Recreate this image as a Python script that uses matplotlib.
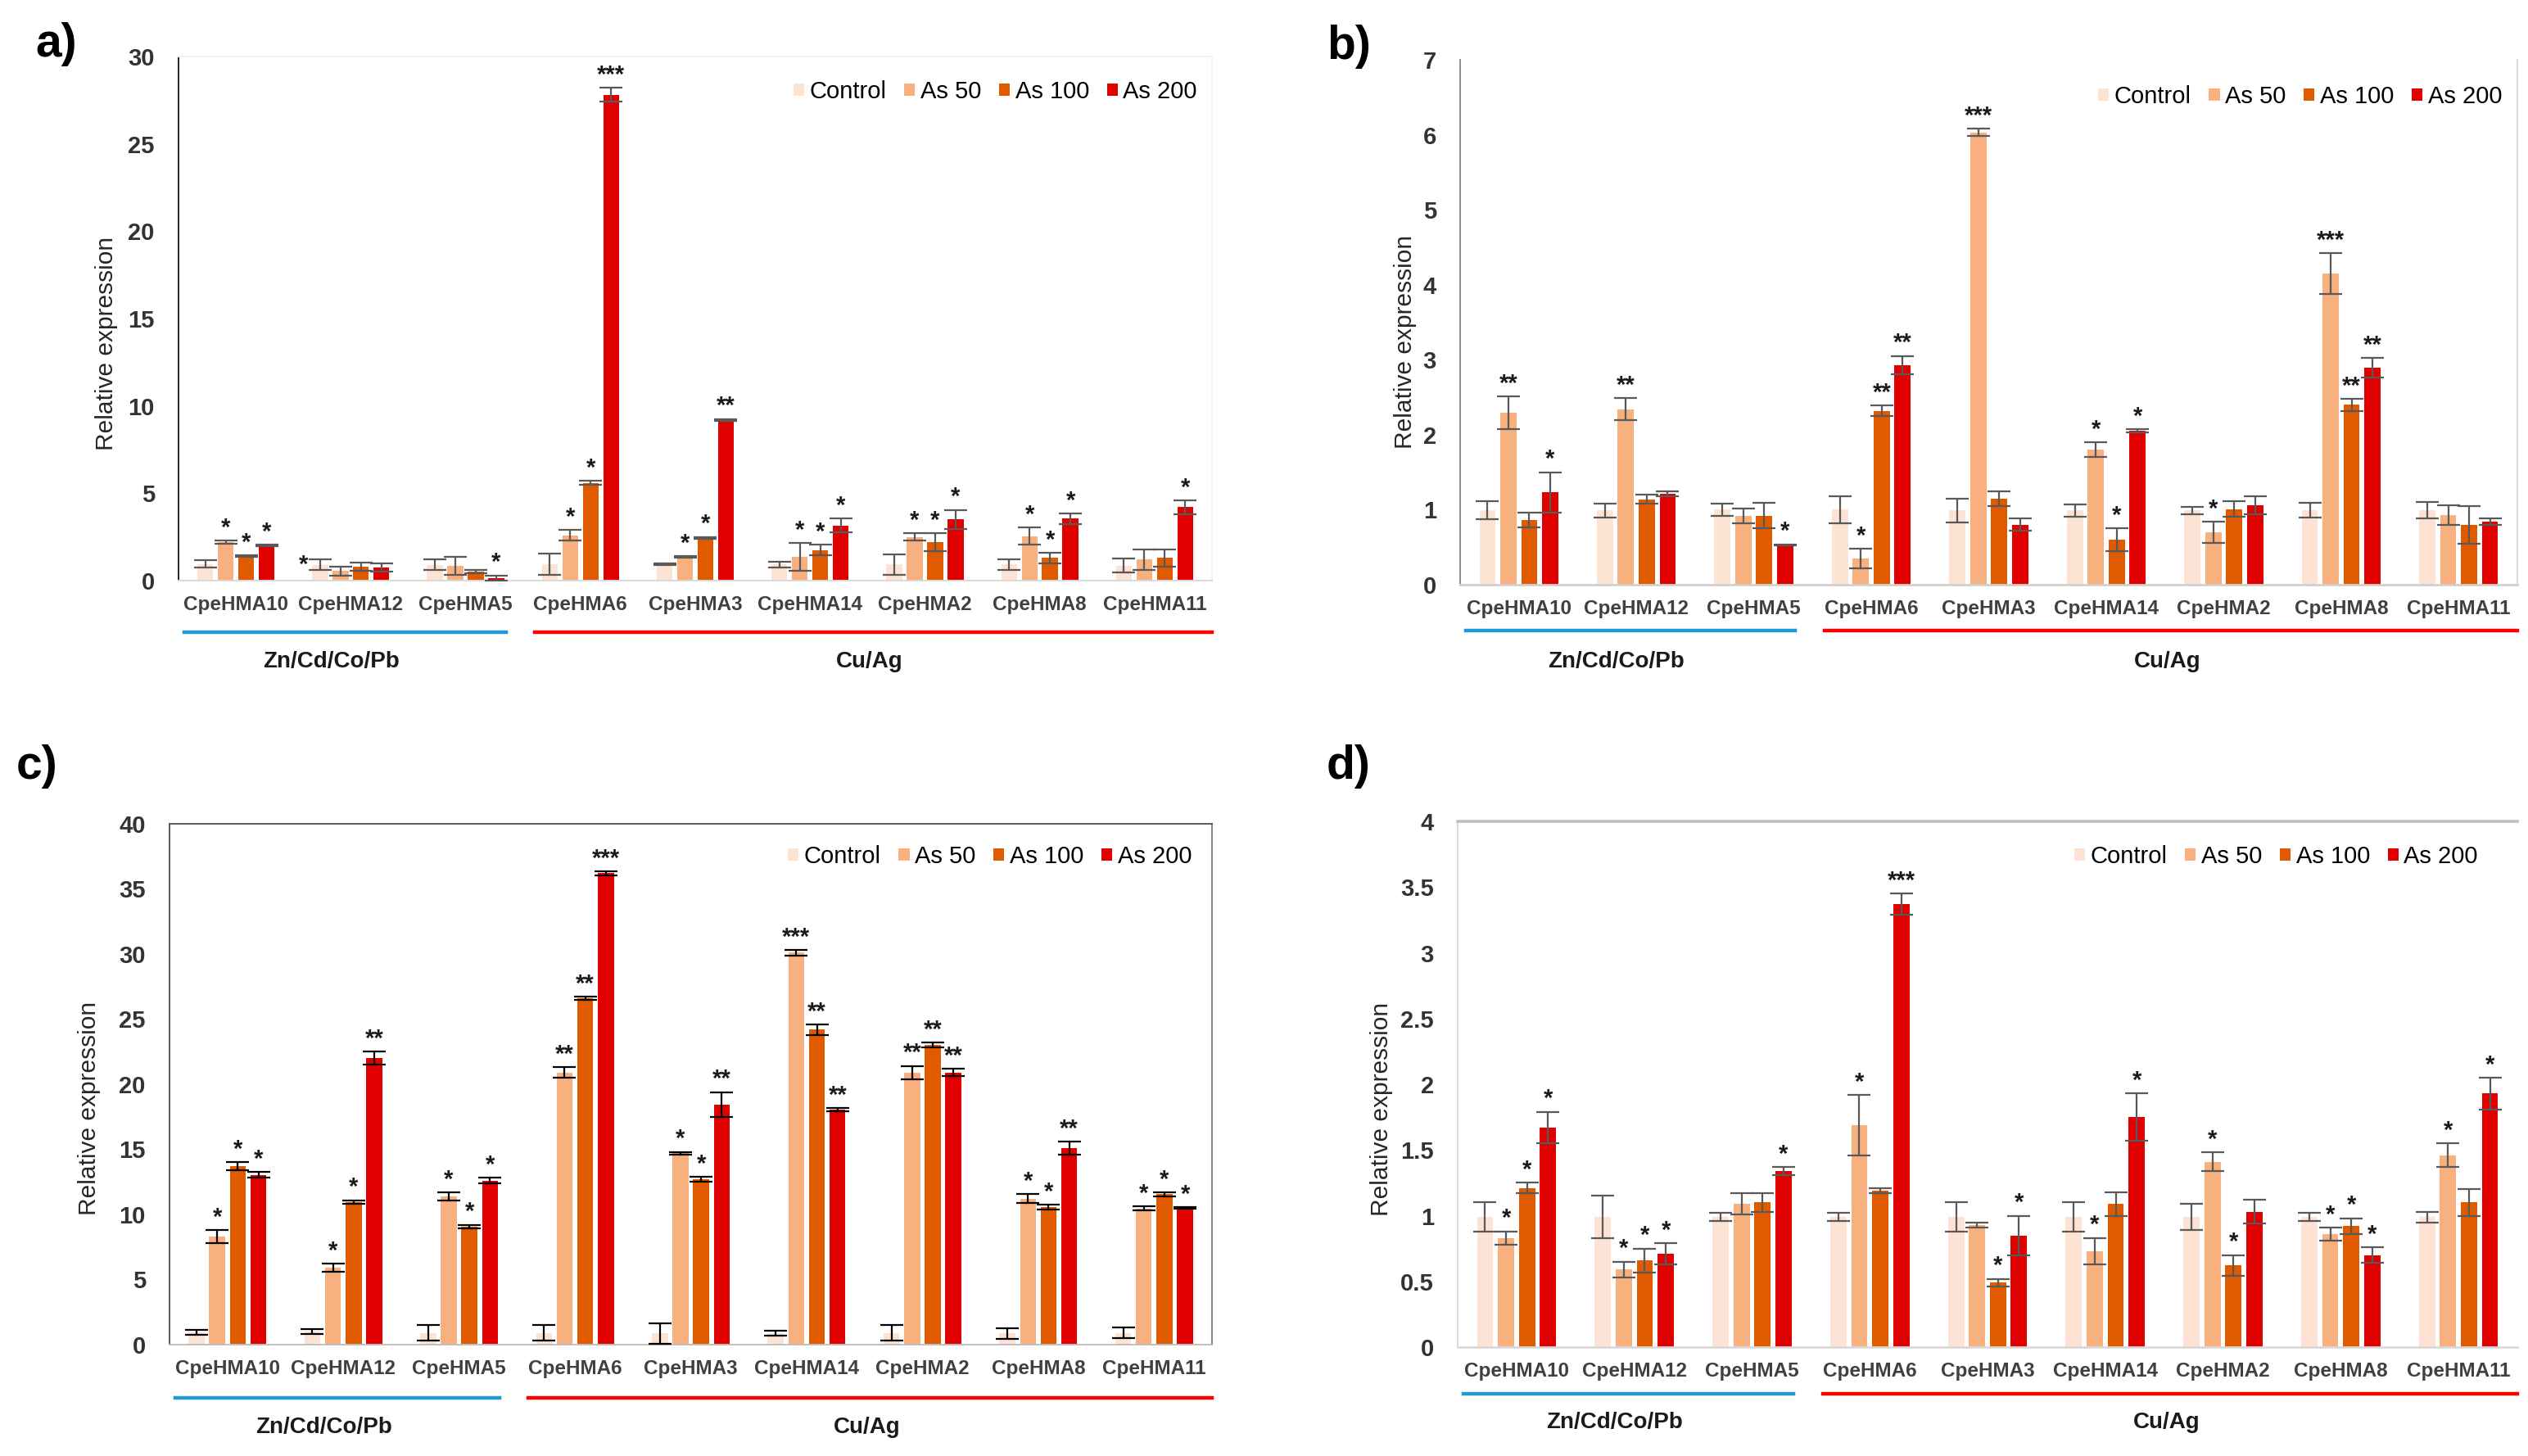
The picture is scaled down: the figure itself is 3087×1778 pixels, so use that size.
import numpy as np
import matplotlib
matplotlib.use("Agg")
import matplotlib.pyplot as plt

plt.rcParams["font.family"] = ["Liberation Sans", "DejaVu Sans"]

genes = ["CpeHMA10", "CpeHMA12", "CpeHMA5", "CpeHMA6", "CpeHMA3",
         "CpeHMA14", "CpeHMA2", "CpeHMA8", "CpeHMA11"]
treatments = ["Control", "As 50", "As 100", "As 200"]
groups = ["Zn/Cd/Co/Pb", "Cu/Ag"]

# ---- a) ---------------------------------------------------------------- #
a_ctrl = [0.95, 0.9, 0.9, 0.95, 0.92, 0.92, 0.92, 0.92, 0.85]
a_as50 = [2.2, 0.55, 0.85, 2.6, 1.35, 1.35, 2.5, 2.55, 1.2]
a_as100 = [1.4, 0.8, 0.5, 5.6, 2.45, 1.75, 2.2, 1.3, 1.3]
a_as200 = [2.0, 0.75, 0.15, 27.8, 9.2, 3.15, 3.5, 3.55, 4.2]
a_err_ctrl = [0.2, 0.3, 0.3, 0.6, 0.05, 0.15, 0.6, 0.3, 0.4]
a_err_as50 = [0.1, 0.25, 0.5, 0.3, 0.05, 0.8, 0.2, 0.5, 0.6]
a_err_as100 = [0.05, 0.25, 0.1, 0.1, 0.05, 0.3, 0.5, 0.3, 0.5]
a_err_as200 = [0.05, 0.25, 0.15, 0.4, 0.05, 0.4, 0.55, 0.3, 0.4]
a_sig_as50 = ["*", "", "", "*", "*", "*", "*", "*", ""]
a_sig_as100 = ["*", "", "", "*", "*", "*", "*", "*", ""]
a_sig_as200 = ["*", "", "*", "***", "**", "*", "*", "*", "*"]

# ---- b) ---------------------------------------------------------------- #
b_ctrl = [0.99, 0.99, 1.0, 1.0, 0.99, 0.99, 0.99, 0.99, 0.99]
b_as50 = [2.29, 2.34, 0.92, 0.35, 6.03, 1.8, 0.7, 4.15, 0.93]
b_as100 = [0.86, 1.14, 0.92, 2.32, 1.15, 0.6, 1.01, 2.4, 0.8]
b_as200 = [1.23, 1.21, 0.53, 2.93, 0.8, 2.05, 1.06, 2.89, 0.84]
b_err_ctrl = [0.12, 0.09, 0.08, 0.18, 0.16, 0.08, 0.05, 0.1, 0.11]
b_err_as50 = [0.22, 0.15, 0.1, 0.13, 0.05, 0.1, 0.14, 0.27, 0.13]
b_err_as100 = [0.1, 0.06, 0.17, 0.07, 0.1, 0.15, 0.1, 0.08, 0.25]
b_err_as200 = [0.27, 0.03, 0.01, 0.12, 0.08, 0.02, 0.12, 0.13, 0.04]
b_sig_as50 = ["**", "**", "", "*", "***", "*", "*", "***", ""]
b_sig_as100 = ["", "", "", "**", "", "*", "", "**", ""]
b_sig_as200 = ["*", "", "*", "**", "", "*", "", "**", ""]

# ---- c) ---------------------------------------------------------------- #
c_ctrl = [0.95, 1.0, 0.9, 0.9, 0.85, 0.9, 0.9, 0.85, 0.9]
c_as50 = [8.3, 5.9, 11.4, 20.9, 14.7, 30.1, 20.9, 11.2, 10.45]
c_as100 = [13.7, 10.95, 9.05, 26.6, 12.7, 24.2, 23.0, 10.55, 11.55]
c_as200 = [13.05, 22.0, 12.6, 36.2, 18.45, 18.05, 20.9, 15.1, 10.5]
c_err_ctrl = [0.2, 0.2, 0.6, 0.6, 0.8, 0.2, 0.6, 0.4, 0.4]
c_err_as50 = [0.5, 0.3, 0.3, 0.4, 0.1, 0.2, 0.5, 0.35, 0.15]
c_err_as100 = [0.3, 0.15, 0.15, 0.1, 0.2, 0.4, 0.2, 0.2, 0.15]
c_err_as200 = [0.2, 0.5, 0.2, 0.15, 0.95, 0.1, 0.3, 0.5, 0.05]
c_sig_as50 = ["*", "*", "*", "**", "*", "***", "**", "*", "*"]
c_sig_as100 = ["*", "*", "*", "**", "*", "**", "**", "*", "*"]
c_sig_as200 = ["*", "**", "*", "***", "**", "**", "**", "**", "*"]

# ---- d) ---------------------------------------------------------------- #
d_ctrl = [0.99, 0.99, 0.99, 0.99, 0.99, 0.99, 0.99, 0.99, 0.99]
d_as50 = [0.83, 0.59, 1.09, 1.69, 0.93, 0.73, 1.41, 0.86, 1.46]
d_as100 = [1.21, 0.66, 1.1, 1.19, 0.49, 1.09, 0.62, 0.92, 1.1]
d_as200 = [1.67, 0.71, 1.34, 3.37, 0.85, 1.75, 1.03, 0.7, 1.93]
d_err_ctrl = [0.11, 0.16, 0.03, 0.03, 0.11, 0.11, 0.1, 0.03, 0.04]
d_err_as50 = [0.05, 0.06, 0.08, 0.23, 0.02, 0.1, 0.07, 0.05, 0.09]
d_err_as100 = [0.04, 0.09, 0.07, 0.02, 0.03, 0.09, 0.08, 0.06, 0.1]
d_err_as200 = [0.12, 0.08, 0.03, 0.08, 0.15, 0.18, 0.09, 0.06, 0.12]
d_sig_as50 = ["*", "*", "", "*", "", "*", "*", "*", "*"]
d_sig_as100 = ["*", "*", "", "", "*", "", "*", "*", ""]
d_sig_as200 = ["*", "*", "*", "***", "*", "*", "", "*", "*"]

colors = ["#FDE3D3", "#F9B07F", "#E05A00", "#E00000"]

panels = [
    dict(tag="a)", vals=[a_ctrl, a_as50, a_as100, a_as200],
         errs=[a_err_ctrl, a_err_as50, a_err_as100, a_err_as200],
         sigs=[a_sig_as50, a_sig_as100, a_sig_as200],
         ymax=30, step=5, rect=[0.07062, 0.60124, 0.40881, 0.35996],
         tagxy=(0.0139, 0.9696), ylab=(-0.0697, 0.452), leg=(0.9857, 0.9328),
         ecol="#595959",
         spines=dict(left=("#262626", 1.4), bottom=("#D9D9D9", 1.4),
                     top=("#F2F2F2", 1.4), right=("#F2F2F2", 1.4)),
         lines=(-0.098, -0.155)),
    dict(tag="b)", vals=[b_ctrl, b_as50, b_as100, b_as200],
         errs=[b_err_ctrl, b_err_as50, b_err_as100, b_err_as200],
         sigs=[b_sig_as50, b_sig_as100, b_sig_as200],
         ymax=7, step=1, rect=[0.57758, 0.59843, 0.41821, 0.36052],
         tagxy=(0.5248, 0.968), ylab=(-0.0519, 0.463), leg=(0.9853, 0.9298),
         ecol="#595959",
         spines=dict(left=("#8C8C8C", 1.4), bottom=("#D0D0D0", 2.0),
                     top=None, right=("#D9D9D9", 1.4)),
         lines=(-0.087, -0.147)),
    dict(tag="c)", vals=[c_ctrl, c_as50, c_as100, c_as200],
         errs=[c_err_ctrl, c_err_as50, c_err_as100, c_err_as200],
         sigs=[c_sig_as50, c_sig_as100, c_sig_as200],
         ymax=40, step=5, rect=[0.06706, 0.07649, 0.41238, 0.35771],
         tagxy=(0.0065, 0.4736), ylab=(-0.077, 0.453), leg=(0.9804, 0.9371),
         ecol="#000000",
         spines=dict(left=("#595959", 1.4), bottom=("#BFBFBF", 1.4),
                     top=("#595959", 1.4), right=("#808080", 1.4)),
         lines=(-0.102, -0.159)),
    dict(tag="d)", vals=[d_ctrl, d_as50, d_as100, d_as200],
         errs=[d_err_ctrl, d_err_as50, d_err_as100, d_err_as200],
         sigs=[d_sig_as50, d_sig_as100, d_sig_as200],
         ymax=4, step=0.5, rect=[0.57661, 0.0748, 0.41918, 0.36108],
         tagxy=(0.5245, 0.4736), ylab=(-0.0719, 0.453), leg=(0.9629, 0.933),
         ecol="#595959",
         spines=dict(left=("#D9D9D9", 1.4), bottom=("#D9D9D9", 2.0),
                     top=("#BFBFBF", 2.6), right=None),
         lines=(-0.089, -0.143)),
]

fig = plt.figure(figsize=(30.87, 17.78), dpi=100)
x = np.arange(len(genes))
step = 0.178
width = 0.138

for p in panels:
    ax = fig.add_axes(p["rect"])
    for i, (v, e) in enumerate(zip(p["vals"], p["errs"])):
        xi = x + (i - 1.5) * step
        ax.bar(xi, v, width, color=colors[i], label=treatments[i], zorder=2)
        ax.errorbar(xi, v, yerr=e, fmt="none", ecolor=p["ecol"],
                    elinewidth=1.6, capsize=10, capthick=1.6, zorder=3)
        if i > 0:
            for xx, vv, ee, s in zip(xi, v, e, p["sigs"][i - 1]):
                if s:
                    ax.annotate(s, (xx, vv + ee), xytext=(0, 1),
                                textcoords="offset points", ha="center",
                                va="bottom", fontsize=21, fontweight="bold",
                                color="#1a1a1a")
    ax.set_xlim(-0.5, len(genes) - 0.5)
    ax.set_ylim(0, p["ymax"])
    ticks = np.arange(0, p["ymax"] + p["step"] / 2, p["step"])
    ax.set_yticks(ticks)
    ax.set_yticklabels([f"{t:g}" for t in ticks], fontsize=21,
                       fontweight="bold", color="#333333")
    ax.set_xticks(x)
    ax.set_xticklabels(genes, fontsize=17.5, fontweight="bold",
                       color="#404040")
    ax.tick_params(axis="y", length=0, pad=21)
    ax.tick_params(axis="x", length=0, pad=13)
    for side, spec in p["spines"].items():
        if spec is None:
            ax.spines[side].set_visible(False)
        else:
            ax.spines[side].set_color(spec[0])
            ax.spines[side].set_linewidth(spec[1])
    ax.set_ylabel("Relative expression", fontsize=21.5, color="#262626",
                  va="center")
    ax.yaxis.set_label_coords(*p["ylab"])
    ax.legend(loc="center right", bbox_to_anchor=p["leg"], ncol=4,
              frameon=False, fontsize=21, handlelength=0.45,
              handleheight=0.45, handletextpad=0.22, columnspacing=0.75,
              borderpad=0, borderaxespad=0)

    # gene family brackets under the axis
    trans = ax.get_xaxis_transform()
    ly, ty = p["lines"]
    ax.plot([-0.45, 2.35], [ly, ly], color="#1E9BD7", lw=3.2,
            transform=trans, clip_on=False)
    ax.plot([2.6, 8.5], [ly, ly], color="#FF0000", lw=3.2,
            transform=trans, clip_on=False)
    ax.text(0.83, ty, groups[0], transform=trans, ha="center", va="center",
            fontsize=20, fontweight="bold", color="#1a1a1a")
    ax.text(5.52, ty, groups[1], transform=trans, ha="center", va="center",
            fontsize=20, fontweight="bold", color="#1a1a1a")

    fig.text(*p["tagxy"], p["tag"], fontsize=41, fontweight="bold",
             ha="left", va="center")

# extra marker left of CpeHMA12 control bar in panel a
ax_a = fig.axes[0]
ax_a.text(1 - 1.5 * step - 0.146, 0.89, "*", ha="center", va="center",
          fontsize=21, fontweight="bold", color="#1a1a1a")

fig.savefig("out.png", dpi=100, facecolor="white")
